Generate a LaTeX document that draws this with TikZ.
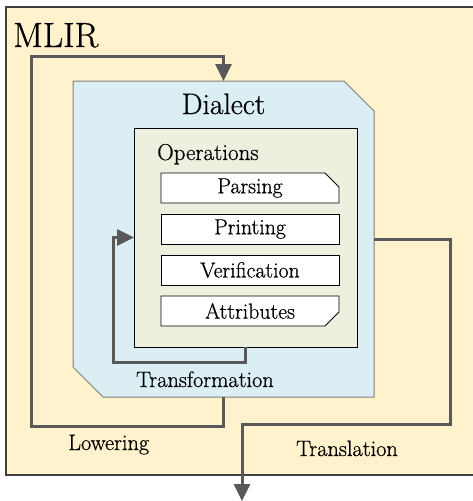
\documentclass[tikz,border=0pt]{standalone}
\usepackage{fontspec}
\setmainfont{Latin Modern Roman}[RawFeature={embolden=0.7}]
\usetikzlibrary{arrows.meta,calc}

\definecolor{mlirfill}{HTML}{FFF2CC}
\definecolor{dialfill}{HTML}{DAEEF3}
\definecolor{opsfill}{HTML}{EBF1DE}
\definecolor{connc}{HTML}{595959}

\tikzset{
  anchorbox/.style={rectangle, draw=none, fill=none, inner sep=0pt, outer sep=0pt},
  opbox/.style={anchorbox, minimum width=178pt, minimum height=30pt,
                font=\fontsize{21.8}{25}\selectfont},
  opframe/.style={draw=black, line width=0.8pt, fill=white},
  conn/.style={draw=connc, line width=3pt, line join=miter,
               -{Triangle[width=16pt,length=17pt]}},
  lbl/.style={inner sep=0pt, anchor=base west, font=\fontsize{22.3}{26}\selectfont},
}

\begin{document}
\begin{tikzpicture}[x=1pt,y=1pt]
\useasboundingbox (0,0) rectangle (473,-501);

% outer MLIR frame (right side runs off the page)
\node[anchorbox, minimum width=474pt, minimum height=468pt] (mlir) at (243,-241) {};
\draw[draw=black!75, line width=1.2pt, fill=mlirfill] (mlir.north west) rectangle (mlir.south east);
\node[inner sep=0pt, anchor=base west, font=\fontsize{35}{40}\selectfont] (mlirtxt) at (13,-47) {MLIR};

% dialect block with two chamfered corners
\node[anchorbox, minimum width=301pt, minimum height=316pt] (dialect) at (223.5,-239) {};
\draw[draw=black!50, line width=1pt, fill=dialfill]
  (dialect.north west) -- ($(dialect.north east)+(-30,0)$) -- ($(dialect.north east)+(0,-30)$)
  -- (dialect.south east) -- ($(dialect.south west)+(30,0)$) -- ($(dialect.south west)+(0,30)$) -- cycle;
\node[inner sep=0pt, anchor=base, font=\fontsize{29.5}{34}\selectfont] (dialtxt) at (223.5,-114) {Dialect};

% operations block
\node[anchorbox, minimum width=223pt, minimum height=219pt] (ops) at (245.5,-237.5) {};
\draw[draw=black, line width=1pt, fill=opsfill] (ops.north west) rectangle (ops.south east);
\node[inner sep=0pt, anchor=base west, font=\fontsize{23}{27}\selectfont] (opstxt) at (157,-160) {Operations};

% operation entries
\node[opbox] (parsing) at (250,-188) {};
\draw[opframe] (parsing.north west) -- ($(parsing.north east)+(-14,0)$) -- ($(parsing.north east)+(0,-14)$)
  -- (parsing.south east) -- (parsing.south west) -- cycle;
\node[opbox] at (parsing) {Parsing};

\node[opbox] (printing) at (250,-229) {};
\draw[opframe] (printing.north west) rectangle (printing.south east);
\node[opbox] at (printing) {Printing};

\node[opbox] (verif) at (250,-270) {};
\draw[opframe] (verif.north west) rectangle (verif.south east);
\node[opbox] at (verif) {Verification};

\node[opbox] (attrs) at (250,-311) {};
\draw[opframe] (attrs.north west) -- (attrs.north east) -- ($(attrs.south east)+(0,14)$)
  -- ($(attrs.south east)+(-14,0)$) -- (attrs.south west) -- cycle;
\node[opbox] at (attrs) {Attributes};

% labels of the flows
\node[lbl] (transf) at (136,-387) {Transformation};
\node[lbl] (lower) at (68,-450) {Lowering};
\node[lbl] (transl) at (296,-456) {Translation};

% flows
\coordinate (out) at (242,-501);
\draw[conn] (dialect.south) -- ++(0,-29) -- ++(-192,0) -- ++(0,370) -| (dialect.north);
\draw[conn] (ops.south) -- ++(0,-15) -| ([xshift=-21pt]ops.west) -- (ops.west);
\draw[conn] (dialect.east) -- ++(76,0) -- ++(0,-185) -| (out);
\end{tikzpicture}
\end{document}
